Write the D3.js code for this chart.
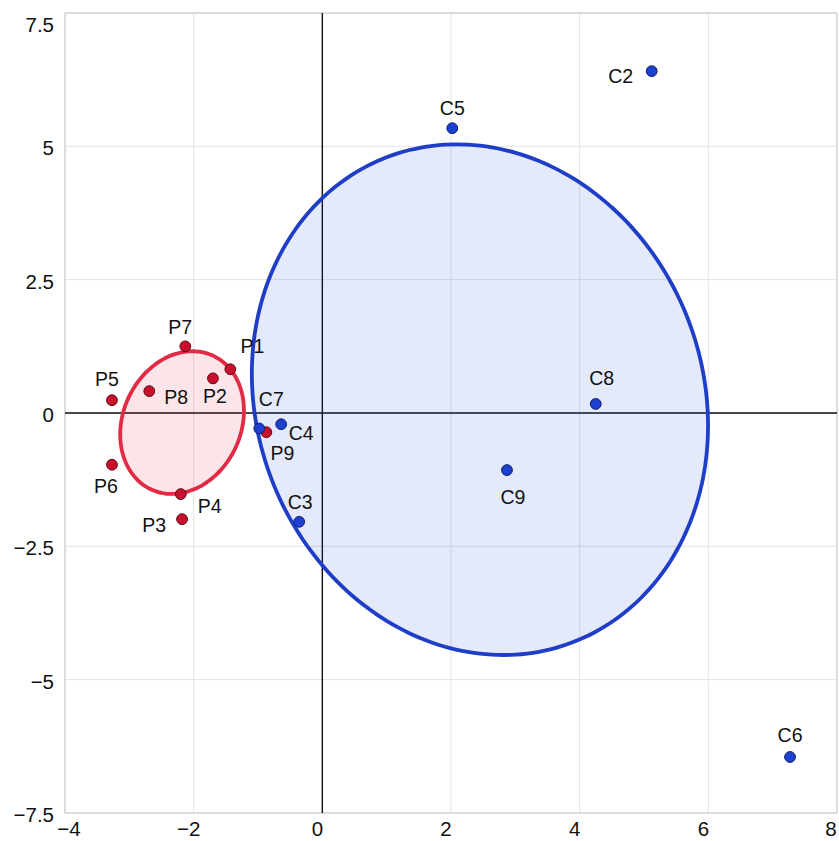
<!DOCTYPE html>
<html>
<head>
<meta charset="utf-8">
<script src="https://cdn.jsdelivr.net/npm/d3@7"></script>
<style>
  html, body { margin: 0; padding: 0; background: #fff; }
  svg text { font-family: "Liberation Sans", Arial, Helvetica, sans-serif; fill: #111; }
</style>
</head>
<body>
<svg id="chart" width="839" height="841"></svg>
<script>
(function () {
  'use strict';

  // ── Data ────────────────────────────────────────────────────────────────
  const pNames = ['P1', 'P2', 'P3', 'P4', 'P5', 'P6', 'P7', 'P8', 'P9'];
  const pX = [-1.43, -1.70, -2.18, -2.20, -3.27, -3.27, -2.13, -2.69, -0.87];
  const pY = [0.82, 0.65, -1.99, -1.52, 0.24, -0.97, 1.25, 0.41, -0.36];

  const cNames = ['C2', 'C3', 'C4', 'C5', 'C6', 'C7', 'C8', 'C9'];
  const cX = [5.12, -0.36, -0.64, 2.02, 7.27, -0.98, 4.25, 2.87];
  const cY = [6.41, -2.04, -0.21, 5.34, -6.45, -0.29, 0.17, -1.07];

  // ellipses: centre + two conjugate semi-axis vectors, data units
  const pEllipse = { c: [-2.18, -0.18], u: [0.45, 1.27], v: [0.85, -0.42] };
  const cEllipse = { c: [2.45, 0.25], u: [-1.44, 4.55], v: [3.24, 1.49] };

  const xTicks = [-4, -2, 0, 2, 4, 6, 8];
  const yTicks = [-7.5, -5, -2.5, 0, 2.5, 5, 7.5];

  // label placement (px offsets from the point to the text baseline)
  const labelPos = {
    P1: [22, -17], P2: [2, 24], P3: [-28, 12], P4: [29, 18], P5: [-5, -15],
    P6: [-6, 27], P7: [-5, -13], P8: [27, 12], P9: [16, 27],
    C2: [-31, 11], C3: [1, -14], C4: [20, 15], C5: [0, -14], C6: [0, -16],
    C7: [12, -23], C8: [6, -20], C9: [6, 33]
  };

  // ── Scales ──────────────────────────────────────────────────────────────
  const svg = d3.select('#chart');
  const x = d3.scaleLinear().domain([-4, 8]).range([65, 837]);
  const y = d3.scaleLinear().domain([-7.5, 7.5]).range([813, 13]);
  const fmt = d3.format('~g');

  // gridlines
  const grid = svg.append('g').attr('stroke', '#e2e2e2').attr('stroke-width', 1);
  grid.selectAll('.gx').data(xTicks).join('line')
    .attr('x1', d => x(d)).attr('x2', d => x(d)).attr('y1', y(7.5)).attr('y2', y(-7.5));
  grid.selectAll('.gy').data(yTicks).join('line')
    .attr('y1', d => y(d)).attr('y2', d => y(d)).attr('x1', x(-4)).attr('x2', x(8));

  svg.append('rect')
    .attr('x', x(-4)).attr('y', y(7.5))
    .attr('width', x(8) - x(-4)).attr('height', y(-7.5) - y(7.5))
    .attr('fill', 'none').attr('stroke', '#cfcfcf').attr('stroke-width', 1.2);

  // zero axes
  svg.append('line').attr('x1', x(0)).attr('x2', x(0)).attr('y1', y(7.5)).attr('y2', y(-7.5))
    .attr('stroke', '#111').attr('stroke-width', 1.4);
  svg.append('line').attr('y1', y(0)).attr('y2', y(0)).attr('x1', x(-4)).attr('x2', x(8))
    .attr('stroke', '#111').attr('stroke-width', 1.4);

  // tick labels (kept inside the frame at the ends)
  svg.append('g').selectAll('text').data(xTicks).join('text')
    .attr('x', d => Math.min(Math.max(x(d) - 5, 69), 831)).attr('y', 836)
    .attr('text-anchor', 'middle').attr('font-size', 20.5).text(fmt);
  svg.append('g').selectAll('text').data(yTicks).join('text')
    .attr('x', 54).attr('y', d => Math.max(y(d) + 9, 32))
    .attr('text-anchor', 'end').attr('font-size', 20.5).text(fmt);

  // ── Ellipses ────────────────────────────────────────────────────────────
  function ellipsePath(e) {
    const pts = d3.range(0, 361, 3).map(a => {
      const t = a * Math.PI / 180;
      return [e.c[0] + e.u[0] * Math.cos(t) + e.v[0] * Math.sin(t),
              e.c[1] + e.u[1] * Math.cos(t) + e.v[1] * Math.sin(t)];
    });
    return d3.line().x(d => x(d[0])).y(d => y(d[1])).curve(d3.curveCardinalClosed)(pts);
  }

  svg.append('path').attr('d', ellipsePath(cEllipse))
    .attr('fill', 'rgba(45,80,210,0.12)').attr('stroke', '#1f3ec8').attr('stroke-width', 3.8);
  svg.append('path').attr('d', ellipsePath(pEllipse))
    .attr('fill', 'rgba(232,40,70,0.12)').attr('stroke', '#e22a45').attr('stroke-width', 3.8);

  // ── Points ──────────────────────────────────────────────────────────────
  function drawPoints(names, xs, ys, fill, stroke) {
    const g = svg.append('g');
    const data = names.map((n, i) => ({ n, x: xs[i], y: ys[i] }));
    g.selectAll('circle').data(data).join('circle')
      .attr('cx', d => x(d.x)).attr('cy', d => y(d.y)).attr('r', 5.4)
      .attr('fill', fill).attr('stroke', stroke).attr('stroke-width', 1);
    g.selectAll('text').data(data).join('text')
      .attr('x', d => x(d.x) + labelPos[d.n][0])
      .attr('y', d => y(d.y) + labelPos[d.n][1] + 1)
      .attr('text-anchor', 'middle')
      .attr('font-size', 19.5)
      .text(d => d.n);
  }

  drawPoints(pNames, pX, pY, '#c8102e', '#5a0a14');
  drawPoints(cNames, cX, cY, '#1d40d0', '#0c1f6a');
})();
</script>
</body>
</html>
